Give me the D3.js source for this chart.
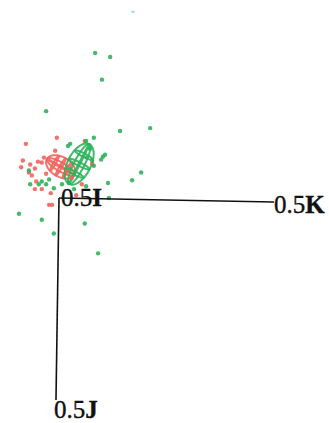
<!DOCTYPE html>
<html>
<head>
<meta charset="utf-8">
<script src="https://cdn.jsdelivr.net/npm/d3@7"></script>
<style>
  html, body { margin: 0; padding: 0; background: #ffffff; }
  svg { display: block; }
</style>
</head>
<body>
<div id="chart"></div>
<script>
// Projected coordinates of the three axis ends (origin at 0,0).
const axisNames = ["0.5I", "0.5K", "0.5J"];
const axisEndX = [0, 0.5, -0.007];
const axisEndY = [0, 0.01, 0.5];

// Group 1 (green) projected scores
const greenX = [0.084, 0.119, 0.100, -0.030, 0.212, 0.142, 0.081, 0.026, 0.063, 0.021,
  0.072, 0.107, 0.102, 0.077, 0.081, 0.098, 0.191, 0.170, 0.114, 0.063,
  0.065, -0.070, -0.040, -0.030, -0.023, -0.012, 0.007, 0.035, -0.047, -0.067,
  0.023, 0.116, -0.093, -0.040, 0.060, -0.012, 0.091];
const greenY = [-0.359, -0.349, -0.293, -0.215, -0.173, -0.166, -0.149, -0.134, -0.141, -0.129,
  -0.122, -0.107, -0.102, -0.093, -0.080, -0.095, -0.063, -0.044, -0.037, -0.029,
  -0.100, -0.068, -0.041, -0.034, -0.046, -0.024, -0.034, -0.022, -0.034, -0.034,
  -0.037, 0.000, 0.039, 0.054, 0.063, 0.088, 0.137];
// faint outlier near the top edge
const farX = [0.172];
const farY = [-0.461];

// Group 2 (red) projected scores
const redX = [-0.077, -0.005, -0.009, 0.060, -0.084, -0.088, -0.067, -0.049, -0.035, -0.070,
  -0.063, -0.053, -0.040, -0.019, -0.056, -0.056, -0.016, -0.023, 0.040, 0.077,
  0.053, 0.019, -0.040, 0.005, -0.030, 0.030];
const redY = [-0.134, -0.149, -0.117, -0.141, -0.093, -0.076, -0.083, -0.090, -0.100, -0.063,
  -0.056, -0.041, -0.022, -0.012, -0.073, -0.022, 0.017, 0.017, -0.007, -0.085,
  -0.034, -0.066, -0.088, -0.078, -0.060, -0.050];

// Confidence ellipsoids: centre, semi-axes and tilt (degrees)
const ellipseCx = [0.004, 0.047];
const ellipseCy = [-0.077, -0.084];
const ellipseA = [0.037, 0.052];
const ellipseB = [0.023, 0.027];
const ellipseTilt = [30, -63];

const groupColors = ["#f2635e", "#2cb25a"];

const W = 329, H = 423;
const svg = d3.select("#chart").append("svg")
  .attr("width", W).attr("height", H);

const x = d3.scaleLinear().domain([0, 0.5]).range([59, 274]);
const y = d3.scaleLinear().domain([0, 0.5]).range([198, 400]);

// Ellipsoid wireframes
const line = d3.line().curve(d3.curveLinearClosed);
function ellipsePts(cx, cy, a, b, tilt, du) {
  const th = tilt * Math.PI / 180;
  return d3.range(0, 64).map(i => {
    const t = i / 64 * 2 * Math.PI;
    const u = du + a * Math.cos(t), v = b * Math.sin(t);
    return [cx + u * Math.cos(th) - v * Math.sin(th), cy + u * Math.sin(th) + v * Math.cos(th)];
  });
}
const wire = svg.append("g").attr("fill", "none").attr("stroke-width", 2)
  .attr("stroke-linejoin", "round");
[0, 1].forEach(g => {
  const cx = x(ellipseCx[g]), cy = y(ellipseCy[g]);
  const a = x(ellipseA[g]) - x(0), b = x(ellipseB[g]) - x(0);
  const gg = wire.append("g").attr("stroke", groupColors[g]).attr("stroke-opacity", 0.9);
  // outline and meridians
  [1, 0.45, 0.06].forEach(f => {
    gg.append("path").attr("d", line(ellipsePts(cx, cy, a, b * f, ellipseTilt[g], 0)));
  });
  // parallels
  [[-0.45, 0.85], [0.45, 0.85], [0, 1]].forEach(([off, f]) => {
    gg.append("path").attr("d", line(ellipsePts(cx, cy, a * 0.08, b * f, ellipseTilt[g], a * off)));
  });
});

// Points
const pts = svg.append("g");
pts.selectAll("circle.red").data(d3.range(redX.length)).join("circle")
  .attr("class", "red")
  .attr("cx", i => x(redX[i])).attr("cy", i => y(redY[i]))
  .attr("r", 2.2).attr("fill", groupColors[0]).attr("fill-opacity", 0.9);
pts.selectAll("circle.green").data(d3.range(greenX.length)).join("circle")
  .attr("class", "green")
  .attr("cx", i => x(greenX[i])).attr("cy", i => y(greenY[i]))
  .attr("r", 2.2).attr("fill", groupColors[1]).attr("fill-opacity", 0.9);
pts.selectAll("ellipse.far").data(d3.range(farX.length)).join("ellipse")
  .attr("class", "far")
  .attr("cx", i => x(farX[i])).attr("cy", i => y(farY[i]))
  .attr("rx", 2).attr("ry", 1).attr("fill", groupColors[1]).attr("fill-opacity", 0.45);

// Axes
const axes = svg.append("g");
[1, 2].forEach(k => {
  axes.append("line")
    .attr("x1", x(0)).attr("y1", y(0))
    .attr("x2", x(axisEndX[k])).attr("y2", y(axisEndY[k]))
    .attr("stroke", "#111").attr("stroke-width", 1.6);
});

// Axis labels: number in roman, axis letter in bold
const labelPos = [[2, 8], [0, 11], [-2, 18]];
axisNames.forEach((name, k) => {
  const t = axes.append("text")
    .attr("x", x(axisEndX[k]) + labelPos[k][0])
    .attr("y", y(axisEndY[k]) + labelPos[k][1])
    .attr("font-family", "'Liberation Serif', 'DejaVu Serif', serif")
    .attr("font-size", 25).attr("fill", "#111")
    .attr("stroke", "#111").attr("stroke-width", 0.4);
  t.append("tspan").text(name.slice(0, 3));
  t.append("tspan").attr("font-weight", "bold").text(name.slice(3));
});
</script>
</body>
</html>
